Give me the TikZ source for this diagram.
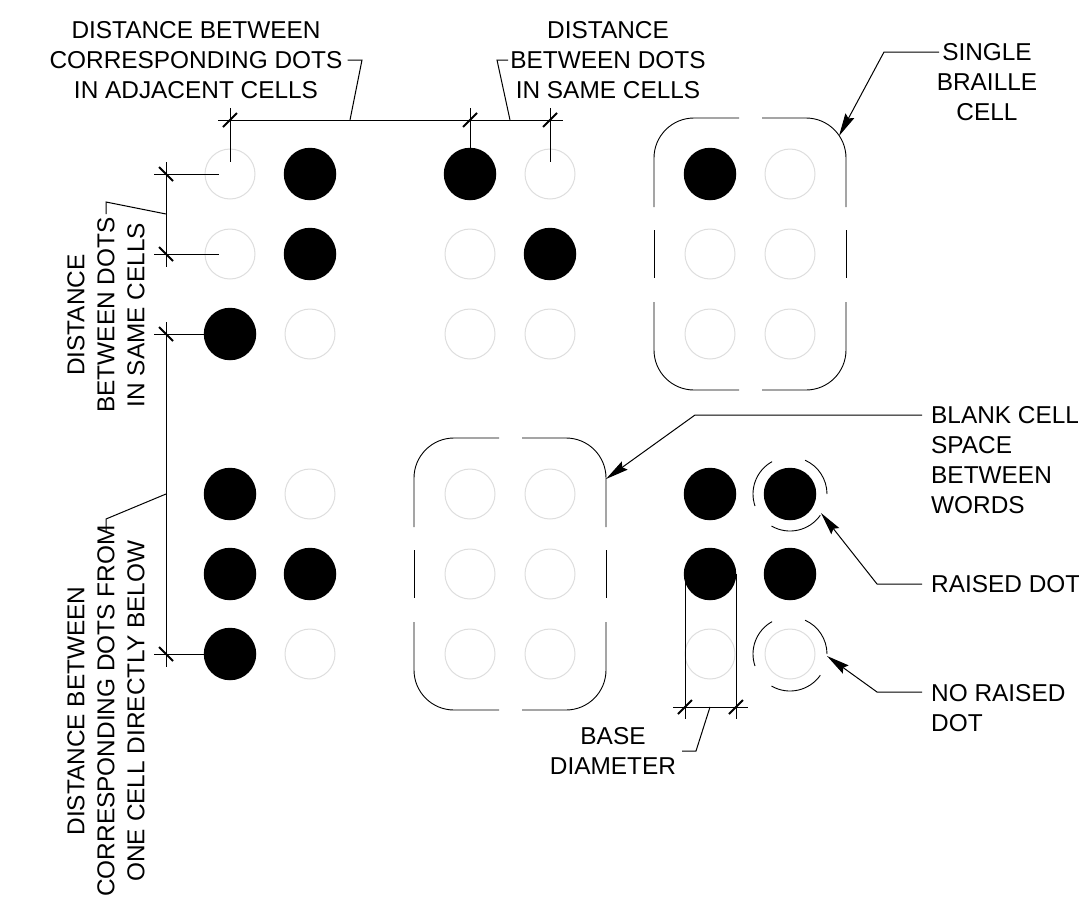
\documentclass[tikz,border=0pt]{standalone}
\usepackage{fontspec}
\setmainfont{Liberation Sans}
\usetikzlibrary{arrows.meta,calc}
\tikzset{
  x=1pt,y=-1pt,
  open dot/.style={circle,draw=black!13,line width=1pt,fill=white,minimum size=50pt,inner sep=0pt,outer sep=0pt},
  full dot/.style={circle,fill=black,draw=none,minimum size=52.5pt,inner sep=0pt,outer sep=0pt},
  dim line/.style={line width=1pt,black},
  tick mark/.style={line width=1.9pt,black},
  outline/.style={line width=.9pt,black},
  leader arrow/.style={line width=1pt,black,{Stealth[length=23pt,width=10pt,inset=3pt]}-},
  label text/.style={font=\fontsize{24.4}{30}\selectfont,align=center,inner sep=0pt,text=black},
  left text/.style={font=\fontsize{24.4}{30}\selectfont,align=left,inner sep=0pt,anchor=west,text=black},
}
\newcommand{\dotcell}[9]{%
  \foreach \c/\cx/\cy/\s in {1/0/0/#3,2/80/0/#4,3/0/80/#5,4/80/80/#6,5/0/160/#7,6/80/160/#8}{%
    \node[\s] (#9\c) at (#1+\cx,#2+\cy) {};}%
}
\newcommand{\cellbox}[2]{%
  \draw[outline] (#1+85,#2) -- (#1+40,#2) arc[start angle=-90,end angle=-180,radius=40] -- (#1,#2+89);
  \draw[outline] (#1+108,#2) -- (#1+152,#2) arc[start angle=-90,end angle=0,radius=40] -- (#1+192,#2+89);
  \draw[outline] (#1,#2+112) -- (#1,#2+160);
  \draw[outline] (#1+192,#2+112) -- (#1+192,#2+160);
  \draw[outline] (#1,#2+184) -- (#1,#2+232) arc[start angle=180,end angle=90,radius=40] -- (#1+85,#2+272);
  \draw[outline] (#1+192,#2+184) -- (#1+192,#2+232) arc[start angle=0,end angle=90,radius=40] -- (#1+108,#2+272);
}
\newcommand{\tickat}[1]{\draw[tick mark] ($(#1)+(-7,7)$) -- ($(#1)+(7,-7)$);}
\newcommand{\tickbk}[1]{\draw[tick mark] ($(#1)+(-7,-7)$) -- ($(#1)+(7,7)$);}
\begin{document}
\begin{tikzpicture}
\useasboundingbox (0,0) rectangle (1079,916);
\def\O{open dot}\def\F{full dot}
\dotcell{230}{174}{\O}{\F}{\O}{\F}{\F}{\O}{a}
\dotcell{470}{174}{\F}{\O}{\O}{\F}{\O}{\O}{b}
\dotcell{710}{174}{\F}{\O}{\O}{\O}{\O}{\O}{c}
\dotcell{230}{494}{\F}{\O}{\F}{\F}{\F}{\O}{d}
\dotcell{470}{494}{\O}{\O}{\O}{\O}{\O}{\O}{e}
\dotcell{710}{494}{\F}{\F}{\F}{\F}{\O}{\O}{f}
\cellbox{654}{118}
\cellbox{414}{438}
% raised dot arcs
\foreach \n in {f2,f6}{
  \draw[outline] (\n)+(-119:37) arc[start angle=-119,end angle=-199,radius=37];
  \draw[outline] (\n)+(-66:37) arc[start angle=-66,end angle=0,radius=37];
  \draw[outline] (\n)+(-240:37) arc[start angle=-240,end angle=-325,radius=37];
}
% top dimension
\coordinate (t1) at (230,120);\coordinate (t2) at (470,120);\coordinate (t3) at (550,120);
\draw[dim line] (218,120) -- (563,120);
\draw[dim line] (230,108) -- (230,162);
\draw[dim line] (470,108) -- (470,150);
\draw[dim line] (550,108) -- (550,162);
\tickat{t1}\tickat{t2}\tickat{t3}
\node[label text] (tl) at (196,60) {DISTANCE BETWEEN\\CORRESPONDING DOTS\\IN ADJACENT CELLS};
\node[label text] (tr) at (608,60) {DISTANCE\\BETWEEN DOTS\\IN SAME CELLS};
\coordinate (la) at (350,120);\coordinate (lb) at (510,120);
\draw[dim line] (la) -- (362,60) -- ($(tl.east)+(5,0)$);
\draw[dim line] (lb) -- (497,60) -- ($(tr.west)+(-2,0)$);
% left dimensions
\coordinate (l1) at (166,174);\coordinate (l2) at (166,254);\coordinate (l3) at (166,334);\coordinate (l4) at (166,654);
\draw[dim line] (166,162) -- (166,267);
\draw[dim line] (154,174) -- (219,174);
\draw[dim line] (154,254) -- (219,254);
\draw[dim line] (166,322) -- (166,667);
\draw[dim line] (154,334) -- (205,334);
\draw[dim line] (154,654) -- (205,654);
\tickbk{l1}\tickbk{l2}\tickbk{l3}\tickbk{l4}
\node[label text,rotate=90] (ls) at (106,315) {DISTANCE\\BETWEEN DOTS\\IN SAME CELLS};
\node[label text,rotate=90] (lc) at (106,711) {DISTANCE BETWEEN\\CORRESPONDING DOTS FROM\\ONE CELL DIRECTLY BELOW};
\draw[dim line] (166,214) -- (106,202) -- (106,214);
\draw[dim line] (166,494) -- (106,519) -- (106,532);
% right side leaders
\node[label text] (n1) at (987,82) {SINGLE\\BRAILLE\\CELL};
\node[left text] (n2) at (931,460) {BLANK CELL\\SPACE\\BETWEEN\\WORDS};
\node[left text] (n3) at (931,584) {RAISED DOT};
\node[left text] (n4) at (931,708) {NO RAISED\\DOT};
\coordinate (a1) at (839,136);\coordinate (a2) at (606,479);\coordinate (a3) at (821,513);\coordinate (a4) at (827,656);
\draw[leader arrow] (a1) -- (884,52) -- (939,52);
\draw[leader arrow] (a2) -- (695,415) -- (922,415);
\draw[leader arrow] (a3) -- (877,584) -- (922,584);
\draw[leader arrow] (a4) -- (877,692) -- (922,692);
% base diameter
\coordinate (b1) at (685,707);\coordinate (b2) at (736,707);
\draw[dim line] (673,707) -- (748,707);
\draw[dim line] (685,574) -- (685,719);
\draw[dim line] (736,574) -- (736,719);
\tickat{b1}\tickat{b2}
\node[label text] (bd) at (613,751) {BASE\\DIAMETER};
\draw[dim line] (710,707) -- (696,751) -- (682,751);
\end{tikzpicture}
\end{document}
